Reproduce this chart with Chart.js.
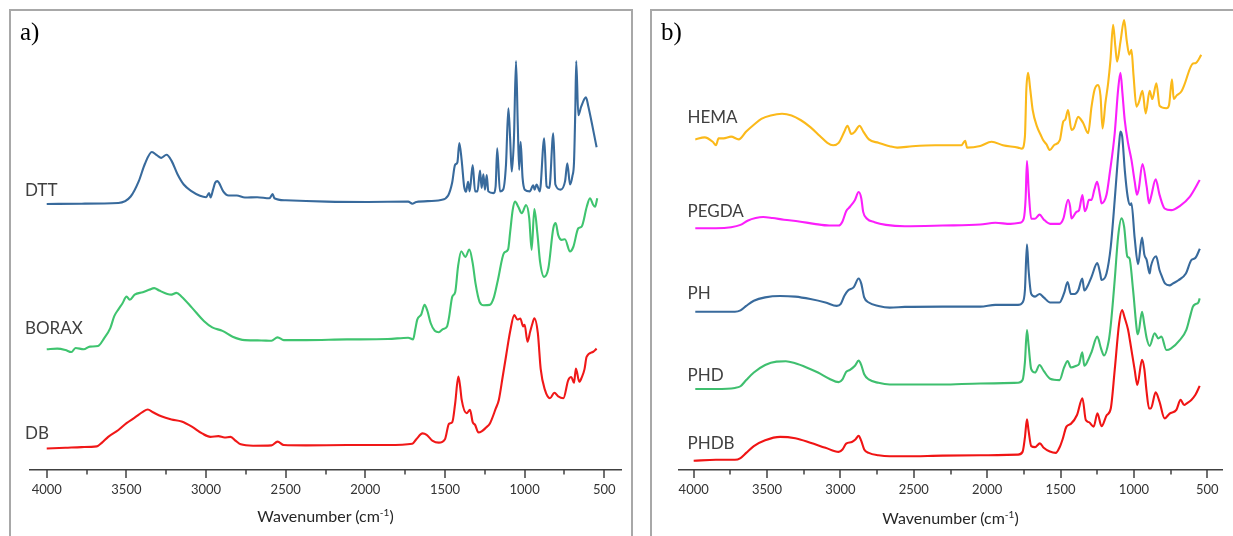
<!DOCTYPE html>
<html><head><meta charset="utf-8">
<script src="https://cdn.jsdelivr.net/npm/chart.js@4.4.1/dist/chart.umd.min.js"></script>
<style>
html,body{margin:0;padding:0;background:#fff;width:1233px;height:536px;overflow:hidden;}
.panel{position:absolute;border:2px solid #a8a8a8;box-sizing:border-box;}
canvas{position:absolute;top:0;}
.lab{position:absolute;font-family:Lato,sans-serif;font-size:17px;line-height:17px;color:#404040;white-space:nowrap;}
.pl{position:absolute;font-family:"Liberation Serif","Times New Roman",serif;font-size:25px;line-height:25px;color:#000;}
.xt{position:absolute;font-family:Lato,sans-serif;font-size:16px;line-height:16px;color:#262626;text-align:center;width:300px;white-space:nowrap;}
.xt sup{font-size:10px;line-height:0;vertical-align:6px;}
</style></head><body>
<div class="panel" style="left:9px;top:9px;width:624px;height:600px;"></div>
<div class="panel" style="left:650px;top:9px;width:600px;height:600px;"></div>
<canvas id="ca" width="640" height="536" style="left:0px;width:640px;height:536px"></canvas>
<canvas id="cb" width="593" height="536" style="left:640px;width:593px;height:536px"></canvas>

<div class="pl" style="left:20px;top:19px;">a)</div>
<div class="pl" style="left:661px;top:19px;">b)</div>

<div class="lab" style="left:25px;top:180.5px;">DTT</div>
<div class="lab" style="left:25px;top:318.5px;">BORAX</div>
<div class="lab" style="left:25px;top:423.5px;">DB</div>

<div class="lab" style="left:687.5px;top:107.5px;">HEMA</div>
<div class="lab" style="left:687.5px;top:201.5px;">PEGDA</div>
<div class="lab" style="left:687.5px;top:284px;">PH</div>
<div class="lab" style="left:687.5px;top:366px;">PHD</div>
<div class="lab" style="left:687.5px;top:434px;">PHDB</div>

<div class="xt" style="left:175.5px;top:508px;">Wavenumber (cm<sup>-1</sup>)</div>
<div class="xt" style="left:800.5px;top:510px;">Wavenumber (cm<sup>-1</sup>)</div>

<script>
// Tick labels (cm-1)
const TICKS_MAJOR = [500, 1000, 1500, 2000, 2500, 3000, 3500, 4000];
const TICKS_MINOR = [750, 1250, 1750, 2250, 2750, 3250, 3750];

// Series: [wavenumber (cm-1), intensity (a.u., stacked offset included)]
const DTT = [[4000,77.8],[3781,77.9],[3550,78.1],[3473,80.0],[3422,84.5],[3384,89.5],[3340,93.0],[3307,92.0],[3281,91.3],[3248,92.2],[3217,90.5],[3179,86.5],[3140,83.5],[3089,81.5],[3038,80.2],[2999,79.8],[2981,81.0],[2971,79.7],[2956,82.0],[2943,84.0],[2928,84.5],[2915,83.7],[2892,81.5],[2858,80.3],[2807,80.3],[2756,79.7],[2679,79.8],[2602,79.5],[2582,80.7],[2571,79.5],[2500,78.9],[2243,78.5],[1987,78.4],[1731,78.5],[1705,77.9],[1680,78.4],[1526,79.0],[1480,80.3],[1455,84.0],[1437,89.2],[1422,90.0],[1410,95.6],[1395,90.5],[1380,83.0],[1368,81.4],[1355,84.3],[1345,81.5],[1326,89.2],[1311,81.5],[1296,81.5],[1280,87.6],[1270,82.5],[1259,86.5],[1249,82.0],[1238,86.3],[1228,81.5],[1196,81.0],[1182,83.0],[1172,94.1],[1155,81.5],[1135,82.0],[1117,89.3],[1102,105.8],[1091,97.0],[1081,87.3],[1067,97.0],[1054,119.6],[1043,101.0],[1034,87.8],[1025,96.0],[1013,85.5],[999,82.0],[968,81.5],[946,83.3],[937,82.0],[925,83.5],[905,81.5],[877,97.0],[862,83.0],[845,82.5],[820,98.5],[807,83.5],[774,82.0],[746,84.5],[732,89.7],[715,83.5],[700,86.0],[690,90.0],[682,105.0],[676,119.6],[663,103.8],[645,106.3],[615,109.0],[600,106.3],[548,94.4]];
const BORAX = [[4000,35.3],[3934,35.5],[3883,35.1],[3845,34.5],[3819,35.7],[3768,35.3],[3729,36.1],[3678,36.3],[3640,38.5],[3601,41.5],[3576,45.0],[3550,47.0],[3525,48.7],[3499,50.7],[3479,49.8],[3448,51.3],[3397,52.0],[3358,52.7],[3325,53.2],[3294,52.5],[3243,51.5],[3217,51.3],[3186,51.8],[3153,50.7],[3089,47.5],[3012,43.5],[2961,41.7],[2897,40.7],[2833,39.0],[2756,38.0],[2653,37.9],[2589,37.8],[2551,38.8],[2512,38.0],[2372,38.0],[2115,38.2],[1859,38.3],[1731,38.7],[1700,38.2],[1687,41.0],[1674,44.0],[1649,45.5],[1628,48.3],[1610,46.5],[1590,43.0],[1564,40.7],[1539,40.3],[1513,41.2],[1487,42.0],[1475,44.5],[1454,50.7],[1436,52.0],[1418,59.5],[1398,64.0],[1372,62.3],[1347,64.5],[1326,60.5],[1308,54.5],[1283,49.2],[1257,48.2],[1219,48.3],[1193,50.5],[1168,55.5],[1129,63.5],[1104,64.5],[1091,69.5],[1075,76.0],[1060,78.5],[1040,77.0],[1018,75.1],[991,77.5],[971,73.6],[956,64.4],[939,76.3],[920,69.2],[903,60.9],[878,56.5],[851,59.0],[820,70.7],[805,72.2],[789,68.7],[767,67.3],[747,67.5],[715,63.9],[694,65.3],[663,70.7],[642,71.2],[610,77.0],[590,79.5],[569,77.5],[558,77.0],[544,79.5]];
const DB = [[4000,6.3],[3883,6.5],[3781,6.7],[3686,6.9],[3653,8.0],[3614,9.7],[3550,11.7],[3499,13.7],[3448,15.3],[3397,17.0],[3366,17.7],[3333,16.9],[3281,15.7],[3217,14.8],[3153,14.2],[3089,12.7],[3025,10.7],[2973,9.7],[2922,9.9],[2884,9.5],[2846,9.7],[2813,8.5],[2782,7.5],[2705,7.1],[2589,7.2],[2551,8.3],[2512,7.3],[2372,7.2],[2115,7.3],[1859,7.3],[1705,7.7],[1680,9.0],[1641,10.7],[1615,10.3],[1577,8.5],[1539,8.0],[1500,9.0],[1475,13.5],[1454,14.0],[1436,19.5],[1416,27.3],[1405,24.5],[1395,20.5],[1364,16.6],[1343,17.6],[1326,14.0],[1311,13.2],[1290,11.0],[1270,11.3],[1240,12.5],[1219,13.5],[1181,18.0],[1162,20.5],[1137,27.5],[1116,33.5],[1091,40.5],[1065,45.3],[1045,44.0],[1027,44.3],[1009,42.0],[1000,42.5],[982,37.5],[965,40.5],[950,43.0],[939,44.4],[917,40.0],[899,29.5],[873,23.5],[841,21.0],[813,22.6],[789,21.5],[757,21.0],[726,26.3],[707,27.2],[690,25.5],[678,29.7],[657,25.8],[642,27.0],[624,29.5],[611,33.1],[569,34.6],[548,35.5]];

const HEMA = [[3989,96.7],[3925,97.3],[3870,96.0],[3848,95.0],[3830,97.0],[3796,97.0],[3745,97.5],[3693,96.7],[3642,99.0],[3590,101.0],[3539,102.7],[3475,103.7],[3398,104.2],[3333,103.7],[3269,102.3],[3205,100.3],[3140,97.7],[3089,95.7],[3050,95.0],[3012,95.7],[2973,99.0],[2952,100.7],[2926,98.3],[2901,99.0],[2870,100.7],[2844,99.0],[2806,96.7],[2741,95.7],[2664,94.7],[2613,94.3],[2510,94.7],[2355,95.0],[2176,95.0],[2150,96.3],[2137,94.3],[2047,94.8],[1970,96.0],[1893,95.0],[1790,94.3],[1764,94.0],[1743,97.5],[1733,111.5],[1721,116.2],[1707,111.5],[1690,105.3],[1661,100.5],[1635,98.0],[1619,96.5],[1597,95.3],[1573,93.6],[1545,95.0],[1505,96.5],[1482,101.9],[1468,102.5],[1449,105.3],[1426,99.5],[1409,100.0],[1380,103.3],[1358,102.3],[1346,101.5],[1312,98.5],[1289,106.3],[1268,111.3],[1244,112.6],[1228,109.5],[1214,99.9],[1194,107.5],[1176,113.1],[1160,119.9],[1142,130.2],[1127,124.0],[1115,119.4],[1091,125.5],[1067,131.6],[1049,125.5],[1032,121.5],[1017,122.9],[1003,115.5],[983,106.3],[967,107.5],[942,110.9],[920,104.3],[893,110.9],[875,108.5],[847,113.1],[825,106.5],[779,105.8],[761,106.7],[741,114.3],[729,108.5],[710,109.5],[677,110.7],[658,112.5],[598,118.9],[581,119.0],[541,121.4]];
const PEGDA = [[3989,70.7],[3848,70.7],[3745,71.0],[3681,71.7],[3629,73.0],[3578,73.7],[3527,74.0],[3462,73.7],[3385,73.2],[3282,72.7],[3179,72.0],[3076,71.5],[3012,71.5],[2986,72.7],[2961,75.7],[2935,77.0],[2901,79.0],[2876,81.3],[2858,79.5],[2845,75.5],[2819,73.5],[2768,72.5],[2690,71.7],[2561,71.3],[2304,71.5],[2047,71.8],[1944,72.3],[1841,72.0],[1777,72.3],[1751,73.5],[1738,79.5],[1729,90.4],[1717,81.5],[1700,73.5],[1674,73.5],[1643,74.7],[1615,73.3],[1571,72.0],[1507,72.0],[1481,73.5],[1449,79.0],[1435,77.0],[1426,73.6],[1392,75.5],[1374,76.0],[1351,80.4],[1335,75.7],[1322,76.7],[1307,79.0],[1289,79.0],[1270,82.0],[1251,84.3],[1230,80.0],[1221,78.0],[1187,80.5],[1165,86.8],[1131,98.5],[1108,111.2],[1092,116.2],[1078,110.0],[1063,102.4],[1040,95.6],[1017,90.7],[995,84.4],[979,80.5],[968,82.0],[942,89.5],[913,82.8],[897,78.0],[883,80.0],[852,85.0],[825,80.4],[791,76.5],[746,76.0],[688,77.2],[620,79.9],[552,84.8]];
const PH = [[3989,46.3],[3848,46.3],[3719,46.3],[3681,46.7],[3642,48.0],[3590,49.5],[3513,50.5],[3411,50.9],[3308,50.7],[3205,50.0],[3102,49.0],[3025,48.0],[2999,48.5],[2973,51.0],[2948,52.5],[2909,53.5],[2876,56.0],[2858,54.5],[2838,50.5],[2807,49.0],[2741,48.0],[2664,47.5],[2561,47.7],[2304,47.8],[2047,47.8],[1944,48.3],[1790,48.3],[1759,49.0],[1743,52.5],[1729,66.0],[1718,58.5],[1700,51.5],[1674,50.7],[1643,51.5],[1615,50.5],[1571,49.0],[1507,49.0],[1476,51.7],[1452,55.0],[1430,51.5],[1404,51.5],[1380,52.5],[1352,56.0],[1338,52.5],[1314,54.0],[1289,56.5],[1250,60.5],[1230,57.5],[1221,55.6],[1187,57.5],[1158,65.3],[1131,79.0],[1116,87.5],[1100,96.0],[1092,99.0],[1080,97.5],[1062,87.5],[1043,80.0],[1026,77.5],[1017,78.0],[995,67.8],[972,60.2],[945,68.0],[929,63.0],[913,61.4],[893,57.5],[885,59.5],[849,62.5],[826,58.5],[813,57.0],[787,54.5],[757,54.0],[736,54.5],[697,55.5],[646,57.5],[609,61.4],[582,62.0],[551,64.7]];
const PHD = [[3989,23.7],[3848,23.7],[3719,24.0],[3681,24.5],[3642,26.3],[3590,28.5],[3513,30.7],[3436,31.7],[3372,31.8],[3308,31.2],[3231,30.0],[3153,28.5],[3076,26.7],[3012,25.7],[2986,26.5],[2961,28.7],[2935,29.3],[2901,30.5],[2876,32.0],[2858,30.7],[2838,28.0],[2807,26.5],[2741,25.5],[2664,25.0],[2561,25.0],[2304,25.0],[2047,25.3],[1790,25.5],[1759,26.3],[1743,31.5],[1729,40.9],[1718,36.5],[1700,29.5],[1674,28.5],[1643,30.7],[1615,29.0],[1571,26.7],[1507,26.3],[1476,30.0],[1452,31.9],[1430,30.0],[1392,30.5],[1374,31.0],[1352,34.4],[1338,30.5],[1314,32.0],[1289,34.5],[1250,39.0],[1224,35.5],[1204,33.5],[1173,37.5],[1158,42.4],[1131,55.6],[1108,68.2],[1085,73.6],[1067,71.2],[1045,62.4],[1031,62.0],[1006,52.7],[979,40.5],[972,39.7],[945,46.3],[929,42.5],[913,38.5],[893,36.3],[859,40.0],[834,38.5],[813,39.0],[779,35.1],[749,35.5],[688,38.0],[643,41.0],[620,44.5],[598,47.8],[581,48.5],[561,49.0],[552,50.2]];
const PHDB = [[4000,2.7],[3848,3.0],[3719,3.0],[3681,3.5],[3642,5.0],[3590,7.0],[3513,8.7],[3411,9.7],[3308,9.3],[3205,8.0],[3102,6.5],[3012,5.3],[2986,6.0],[2961,7.7],[2922,8.2],[2896,9.0],[2876,10.0],[2858,8.5],[2838,6.0],[2807,5.0],[2741,4.3],[2664,4.0],[2561,4.0],[2304,4.2],[2047,4.3],[1790,4.5],[1759,5.3],[1743,9.5],[1729,14.8],[1718,11.5],[1700,7.0],[1674,6.7],[1641,7.8],[1615,6.5],[1573,5.4],[1533,5.0],[1505,6.8],[1486,9.0],[1460,12.7],[1430,13.5],[1388,16.1],[1351,21.0],[1328,14.6],[1307,14.0],[1274,12.7],[1249,16.6],[1221,12.8],[1186,16.0],[1158,18.0],[1131,29.3],[1101,42.9],[1081,46.8],[1063,44.5],[1040,41.0],[1026,37.5],[995,29.3],[977,24.9],[945,32.2],[929,29.5],[915,23.4],[897,18.0],[885,18.0],[852,22.7],[826,20.0],[791,15.1],[757,16.5],[711,17.6],[682,20.5],[658,19.0],[640,19.5],[609,20.5],[581,22.0],[552,24.6]];

const COLORS = {
  DTT:'#386a9c', BORAX:'#3fc46f', DB:'#f01818',
  HEMA:'#fbb91a', PEGDA:'#fb1ffb', PH:'#386a9c', PHD:'#3fbf6f', PHDB:'#f01414'
};

const tickPlugin = {
  id: 'ftirTicks',
  afterDraw(chart) {
    const xs = chart.scales.x, ctx = chart.ctx, y0 = chart.chartArea.bottom;
    ctx.save();
    ctx.strokeStyle = '#404040';
    ctx.lineWidth = 1.5;
    const all = TICKS_MAJOR.map(v => [v, 8]).concat(TICKS_MINOR.map(v => [v, 4.5]));
    all.forEach(([v, len]) => {
      const px = Math.round(xs.getPixelForValue(v));
      ctx.beginPath();
      ctx.moveTo(px, y0);
      ctx.lineTo(px, y0 + len);
      ctx.stroke();
    });
    ctx.restore();
  }
};

function makeChart(id, series, padL, padR, xmin, xmax) {
  return new Chart(document.getElementById(id), {
    type: 'line',
    data: {
      datasets: series.map(([name, arr]) => ({
        label: name,
        data: arr.map(([x, y]) => ({x, y})),
        borderColor: COLORS[name],
        borderWidth: 2.1,
        pointRadius: 0,
        fill: false,
        cubicInterpolationMode: 'monotone'
      }))
    },
    options: {
      responsive: false,
      animation: false,
      devicePixelRatio: 1,
      layout: {padding: {left: padL, right: padR, top: 10, bottom: 0}},
      plugins: {legend: {display: false}, tooltip: {enabled: false}},
      scales: {
        x: {
          type: 'linear', reverse: true, min: xmin, max: xmax,
          afterBuildTicks(s) { s.ticks = TICKS_MAJOR.map(v => ({value: v})); },
          afterFit(s) { s.height = 66; },
          grid: {display: false, drawTicks: false},
          border: {display: true, color: '#404040', width: 1.5},
          ticks: {
            font: {family: 'Lato', size: 13}, color: '#333333', padding: 12,
            maxRotation: 0, autoSkip: false, callback: v => String(v)
          }
        },
        y: {display: false, min: 0, max: 134.55}
      }
    },
    plugins: [tickPlugin]
  });
}

makeChart('ca', [['DTT', DTT], ['BORAX', BORAX], ['DB', DB]], 30, 19, 395, 4105);
makeChart('cb', [['HEMA', HEMA], ['PEGDA', PEGDA], ['PH', PH], ['PHD', PHD], ['PHDB', PHDB]], 39, 11, 400, 4100);
</script>
</body></html>
